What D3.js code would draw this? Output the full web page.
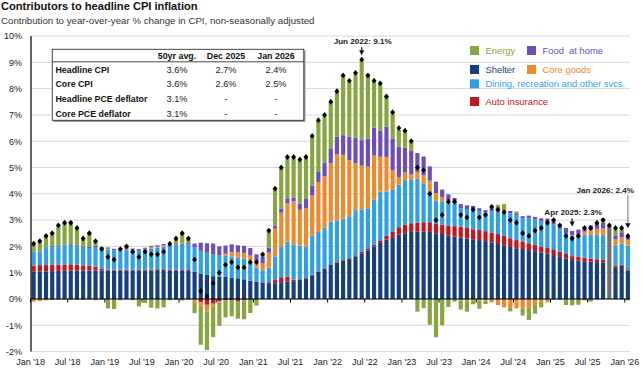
<!DOCTYPE html>
<html>
<head>
<meta charset="utf-8">
<script src="https://cdn.jsdelivr.net/npm/d3@7"></script>
<style>
  html, body { margin: 0; padding: 0; background: #fff; }
  svg { display: block; font-family: "Liberation Sans", Arial, Helvetica, sans-serif; }
</style>
</head>
<body>
<svg id="chart" width="643" height="368"></svg>
<script>
// months Jan 2018 .. Jan 2026
const months = d3.timeMonth.range(new Date(2018, 0, 1), new Date(2026, 1, 1));

// contributions, percentage points (Oct 2025 has no breakdown)
const shelter = [
  1.05,1.05,1.05,1.06,1.07,1.07,1.08,1.08,1.08,1.08,1.08,1.08,
  1.08,1.08,1.08,1.09,1.09,1.09,1.09,1.09,1.10,1.10,1.09,1.08,
  1.07,1.07,1.04,0.97,0.92,0.87,0.85,0.84,0.82,0.79,0.75,0.70,
  0.65,0.62,0.60,0.60,0.64,0.66,0.68,0.72,0.78,0.90,1.03,1.15,
  1.30,1.38,1.45,1.52,1.62,1.74,1.85,2.00,2.13,2.26,2.35,2.45,
  2.50,2.55,2.56,2.56,2.55,2.50,2.47,2.42,2.37,2.33,2.30,2.27,
  2.24,2.20,2.15,2.09,2.04,1.98,1.93,1.90,1.86,1.82,1.77,1.72,
  1.67,1.60,1.54,1.48,1.46,1.44,1.42,1.40,1.38,null,1.21,1.26,
  1.08
];
const autoIns = [
  0.22,0.24,0.24,0.24,0.24,0.24,0.24,0.22,0.20,0.20,0.15,0.06,
  0.03,0.03,0.03,0.03,0.03,0.03,0.03,0.03,0.03,0.03,0.03,0.03,
  0.03,0.03,0.00,-0.12,-0.22,-0.18,-0.08,-0.05,-0.06,-0.10,-0.05,-0.03,
  0.00,0.02,0.04,0.12,0.19,0.19,0.06,0.03,0.02,0.02,0.02,0.02,
  0.02,0.02,0.03,0.03,0.04,0.05,0.05,0.07,0.10,0.14,0.20,0.28,
  0.33,0.33,0.34,0.36,0.37,0.35,0.35,0.36,0.40,0.42,0.40,0.38,
  0.38,0.38,0.38,0.38,0.36,0.33,0.31,0.28,0.26,0.23,0.22,0.22,
  0.22,0.20,0.17,0.15,0.14,0.13,0.12,0.11,0.10,null,0.05,0.04,
  0.05
];
const dining = [
  0.54,0.50,0.68,0.69,0.70,0.73,0.74,0.71,0.71,0.66,0.75,0.78,
  0.77,0.74,0.77,0.74,0.72,0.74,0.77,0.80,0.82,0.86,0.90,0.92,
  0.96,0.98,0.93,0.86,0.84,0.82,0.80,0.80,0.79,0.78,0.78,0.73,
  0.55,0.45,0.55,0.90,1.15,1.33,1.32,1.28,1.20,1.49,1.50,1.54,
  1.62,1.58,1.57,1.60,1.72,1.62,1.55,1.70,1.86,1.69,1.62,1.62,
  1.69,1.65,1.67,1.48,1.18,0.88,0.90,0.93,0.88,0.70,0.72,0.78,
  0.73,0.72,0.80,0.85,0.88,0.95,0.93,0.90,0.95,0.98,0.95,0.98,
  0.95,0.90,0.80,0.78,0.80,0.86,0.90,0.94,0.95,null,0.76,0.80,
  0.90
];
const coreGoods = [
  -0.10,-0.08,-0.05,-0.04,-0.02,-0.02,-0.04,-0.03,-0.04,-0.02,-0.05,0.02,
  0.03,0.00,-0.02,0.02,0.03,-0.02,0.02,0.06,0.04,0.05,0.00,-0.03,
  -0.06,-0.02,-0.10,-0.18,-0.25,-0.12,-0.04,0.08,0.18,0.20,0.22,0.22,
  0.21,0.26,0.57,1.05,1.30,1.46,1.65,1.36,1.45,1.52,1.90,1.96,
  2.22,2.52,2.43,2.13,1.78,1.66,1.58,1.69,1.32,1.31,0.73,0.29,
  0.30,0.22,0.25,0.30,0.40,0.30,0.15,0.05,0.00,-0.05,-0.08,-0.05,
  -0.06,-0.06,-0.13,-0.23,-0.32,-0.34,-0.36,-0.36,-0.34,-0.23,-0.11,-0.10,
  -0.02,-0.02,-0.02,0.02,0.06,0.13,0.18,0.22,0.25,null,0.25,0.25,
  0.22
];
const foodHome = [
  0.00,0.01,0.02,0.03,0.03,0.03,0.03,0.03,0.03,0.04,0.04,0.04,
  0.05,0.06,0.05,0.05,0.05,0.04,0.04,0.04,0.05,0.05,0.05,0.05,
  0.05,0.07,0.14,0.31,0.36,0.42,0.35,0.31,0.29,0.27,0.27,0.29,
  0.29,0.25,0.20,0.12,0.15,0.19,0.15,0.24,0.38,0.38,0.38,0.51,
  0.57,0.67,0.75,0.89,0.97,0.97,1.07,1.05,0.98,1.15,1.20,1.15,
  0.93,0.90,0.73,0.72,0.54,0.43,0.29,0.22,0.19,0.16,0.14,0.11,
  0.10,0.08,0.10,0.09,0.08,0.09,0.09,0.07,0.10,0.09,0.13,0.14,
  0.15,0.15,0.19,0.16,0.18,0.19,0.18,0.22,0.22,null,0.15,0.19,
  0.17
];
const energy = [
  0.36,0.45,0.45,0.52,0.78,0.84,0.86,0.68,0.31,0.57,0.22,-0.02,
  -0.36,-0.38,-0.03,0.13,-0.05,-0.26,-0.15,-0.33,-0.36,-0.32,-0.05,0.25,
  0.45,0.20,-0.44,-1.44,-1.47,-1.15,-0.90,-0.65,-0.60,-0.65,-0.72,-0.50,
  -0.25,0.15,0.65,1.41,1.55,1.56,1.52,1.64,1.57,1.88,1.96,1.81,
  1.77,1.74,2.29,2.09,2.47,3.01,2.44,1.78,1.81,1.20,1.00,0.64,
  0.67,0.38,-0.48,-0.35,-0.98,-1.45,-1.00,-0.30,-0.10,-0.35,-0.40,-0.15,
  -0.31,-0.13,0.14,0.17,0.25,-0.13,0.07,-0.27,-0.46,-0.33,-0.21,-0.03,
  0.06,-0.01,-0.21,-0.24,-0.22,-0.05,-0.10,0.01,0.18,null,0.27,0.15,
  -0.05
];
// headline CPI, y/y %
const headline = [
  2.1,2.2,2.4,2.5,2.8,2.9,2.9,2.7,2.3,2.5,2.2,1.9,
  1.6,1.5,1.9,2.0,1.8,1.6,1.8,1.7,1.7,1.8,2.1,2.3,
  2.5,2.3,1.5,0.3,0.1,0.6,1.0,1.3,1.4,1.2,1.2,1.4,
  1.4,1.7,2.6,4.2,5.0,5.4,5.4,5.3,5.4,6.2,6.8,7.0,
  7.5,7.9,8.5,8.3,8.6,9.1,8.5,8.3,8.2,7.7,7.1,6.5,
  6.4,6.0,5.0,4.9,4.0,3.0,3.2,3.7,3.7,3.2,3.1,3.4,
  3.1,3.2,3.5,3.4,3.3,3.0,2.9,2.5,2.4,2.6,2.7,2.9,
  3.0,2.8,2.4,2.3,2.4,2.7,2.7,2.9,3.0,2.8,2.7,2.7,
  2.4
];

const yTicks = [-2, -1, 0, 1, 2, 3, 4, 5, 6, 7, 8, 9, 10];

const tableHead = ["50yr avg.", "Dec 2025", "Jan 2026"];
const tableRows = [
  ["Headline CPI", "3.6%", "2.7%", "2.4%"],
  ["Core CPI", "3.6%", "2.6%", "2.5%"],
  ["Headline PCE deflator", "3.1%", "-", "-"],
  ["Core PCE deflator", "3.1%", "-", "-"]
];

const series = [
  { key: "shelter", label: "Shelter", values: shelter, color: "#173f7b" },
  { key: "autoIns", label: "Auto insurance", values: autoIns, color: "#c3161d" },
  { key: "dining", label: "Dining, recreation and other svcs.", values: dining, color: "#2f9fe6" },
  { key: "coreGoods", label: "Core goods", values: coreGoods, color: "#ee8a2c" },
  { key: "foodHome", label: "Food  at home", values: foodHome, color: "#6d4db8" },
  { key: "energy", label: "Energy", values: energy, color: "#87a540" }
];

const callouts = [
  { month: "2022-06", text: "Jun 2022: 9.1%" },
  { month: "2025-04", text: "Apr 2025: 2.3%" },
  { month: "2026-01", text: "Jan 2026: 2.4%" }
];

const fmtKey = d3.timeFormat("%Y-%m");
const svg = d3.select("#chart");

const x = d3.scaleBand()
  .domain(months.map(fmtKey))
  .range([30.5, 631])
  .paddingInner(0.33)
  .paddingOuter(0.17);
const y = d3.scaleLinear().domain([-2, 10]).range([351.6, 36]);
const gap = x.step() - x.bandwidth();

// title
svg.append("text").attr("x", 1).attr("y", 10)
  .attr("font-size", 11.1).attr("font-weight", "bold").attr("fill", "#111")
  .text("Contributors to headline CPI inflation");
svg.append("text").attr("x", 1).attr("y", 24)
  .attr("font-size", 9.7).attr("fill", "#333")
  .text("Contribution to year-over-year % change in CPI, non-seasonally adjusted");

// grid
svg.append("g").selectAll("line").data(yTicks).join("line")
  .attr("x1", 31).attr("x2", 630)
  .attr("y1", d => y(d)).attr("y2", d => y(d))
  .attr("stroke", "#d9d9d9").attr("stroke-width", 1);

// y axis labels
const yAxis = svg.append("g").attr("transform", "translate(22,0)")
  .call(d3.axisLeft(y).tickValues(yTicks).tickSize(0).tickPadding(0).tickFormat(d => d + "%"));
yAxis.select(".domain").remove();
yAxis.selectAll("text").attr("font-size", 9).attr("fill", "#222")
  .style("font-family", "\"Liberation Sans\", Arial, sans-serif");

// stacked bars
const rows = months.map((m, i) => {
  const r = { key: fmtKey(m), i };
  series.forEach(s => { r[s.key] = s.values[i] ?? 0; });
  return r;
});
const stack = d3.stack().keys(series.map(s => s.key)).offset(d3.stackOffsetDiverging)(rows);

const barsG = svg.append("g");
stack.forEach((layer, k) => {
  barsG.append("g").attr("fill", series[k].color)
    .selectAll("rect")
    .data(layer.filter(d => series[k].values[d.data.i] !== null && d[1] !== d[0]))
    .join("rect")
    .attr("x", d => x(d.data.key))
    .attr("width", x.bandwidth())
    .attr("y", d => y(Math.max(d[0], d[1])))
    .attr("height", d => Math.abs(y(d[0]) - y(d[1])));
});

// month with no breakdown
const missing = rows.filter(r => shelter[r.i] === null);
barsG.append("g").selectAll("rect").data(missing).join("rect")
  .attr("x", d => x(d.key)).attr("width", x.bandwidth())
  .attr("y", d => y(headline[d.i])).attr("height", d => y(0) - y(headline[d.i]))
  .attr("fill", "#6f6f6f");

// zero line and axis
svg.append("line").attr("x1", 31).attr("x2", 630).attr("y1", y(0)).attr("y2", y(0))
  .attr("stroke", "#000").attr("stroke-width", 1.2);
svg.append("line").attr("x1", 31).attr("x2", 31).attr("y1", y(10)).attr("y2", y(-2))
  .attr("stroke", "#000").attr("stroke-width", 1.2);

const labelled = months.filter(m => m.getMonth() % 6 === 0);
const tickX = m => x(fmtKey(m)) - gap / 2;
svg.append("g").selectAll("line").data(labelled).join("line")
  .attr("x1", tickX).attr("x2", tickX)
  .attr("y1", y(0)).attr("y2", y(0) + 3.5)
  .attr("stroke", "#000").attr("stroke-width", 1);
svg.append("g").selectAll("text").data(labelled).join("text")
  .attr("x", tickX).attr("y", 365)
  .attr("text-anchor", "middle").attr("font-size", 9).attr("fill", "#222")
  .text(m => d3.timeFormat("%b")(m) + " '" + d3.timeFormat("%y")(m));

// headline diamonds
svg.append("g").selectAll("path").data(rows).join("path")
  .attr("d", "M0,-2.9L2.4,0L0,2.9L-2.4,0Z")
  .attr("transform", d => `translate(${x(d.key) + x.bandwidth() / 2},${y(headline[d.i])})`)
  .attr("fill", "#000");

// table
const tbl = svg.append("g");
tbl.append("rect").attr("x", 53.5).attr("y", 50.5).attr("width", 252).attr("height", 71.5).attr("fill", "#9a9a9a");
tbl.append("rect").attr("x", 52.3).attr("y", 49.3).attr("width", 251.5).attr("height", 71)
  .attr("fill", "#fff").attr("stroke", "#333").attr("stroke-width", 0.9);
tbl.append("line").attr("x1", 52.3).attr("x2", 303.8).attr("y1", 61.8).attr("y2", 61.8)
  .attr("stroke", "#333").attr("stroke-width", 0.9);
const colX = [177, 226, 276];
tbl.selectAll(".hd").data(tableHead).join("text").attr("class", "hd")
  .attr("x", (d, i) => colX[i]).attr("y", 59.3).attr("text-anchor", "middle")
  .attr("font-size", 8.9).attr("font-weight", "bold").attr("fill", "#111").text(d => d);
const rowY = [72.5, 87.3, 102.3, 116.7];
tableRows.forEach((r, j) => {
  tbl.append("text").attr("x", 55.5).attr("y", rowY[j])
    .attr("font-size", 8.8).attr("font-weight", "bold").attr("fill", "#111").text(r[0]);
  r.slice(1).forEach((v, i) => {
    tbl.append("text").attr("x", colX[i]).attr("y", rowY[j]).attr("text-anchor", "middle")
      .attr("font-size", 9.2).attr("fill", "#222").text(v);
  });
});

// legend
const legendPos = {
  energy: [470, 50.5], foodHome: [527, 50.5],
  shelter: [470, 69.5], coreGoods: [527, 69.5],
  dining: [470, 83.8], autoIns: [470, 101.5]
};
const leg = svg.append("g");
series.forEach(s => {
  const [lx, ly] = legendPos[s.key];
  leg.append("rect").attr("x", lx).attr("y", ly - 4.5).attr("width", 9).attr("height", 9).attr("fill", s.color);
  leg.append("text").attr("x", lx + 15.5).attr("y", ly + 3.3)
    .attr("font-size", 9.4).attr("fill", s.color).style("white-space", "pre").text(s.label);
});

// callouts
const stackTop = key => {
  const r = rows.find(d => d.key === key);
  const pos = series.reduce((a, s) => a + Math.max(0, r[s.key]), 0);
  return Math.max(pos, headline[r.i]);
};
const arrowHead = (g, cx, tip) => g.append("path")
  .attr("d", `M${cx - 2.6},${tip - 5}L${cx + 2.6},${tip - 5}L${cx},${tip}Z`).attr("fill", "#111");

callouts.forEach((c, k) => {
  const cx = x(c.month) + x.bandwidth() / 2;
  const tip = y(stackTop(c.month)) - (k === 2 ? 7 : 4.5);
  const g = svg.append("g");
  if (k < 2) {
    g.append("line").attr("x1", cx).attr("x2", cx).attr("y1", tip - 8).attr("y2", tip - 3)
      .attr("stroke", "#111").attr("stroke-width", 1.2);
    arrowHead(g, cx, tip);
    g.append("text").attr("x", cx + 1).attr("y", tip - 11.5).attr("text-anchor", "middle")
      .attr("font-size", 8.1).attr("font-weight", "bold").attr("fill", "#222").text(c.text);
  } else {
    g.append("line").attr("x1", cx).attr("x2", cx).attr("y1", tip - 33).attr("y2", tip - 4)
      .attr("stroke", "#8a8a8a").attr("stroke-width", 1.2);
    arrowHead(g, cx, tip);
    g.append("text").attr("x", 634).attr("y", tip - 35.5).attr("text-anchor", "end")
      .attr("font-size", 8.1).attr("font-weight", "bold").attr("fill", "#222").text(c.text);
  }
});
</script>
</body>
</html>
